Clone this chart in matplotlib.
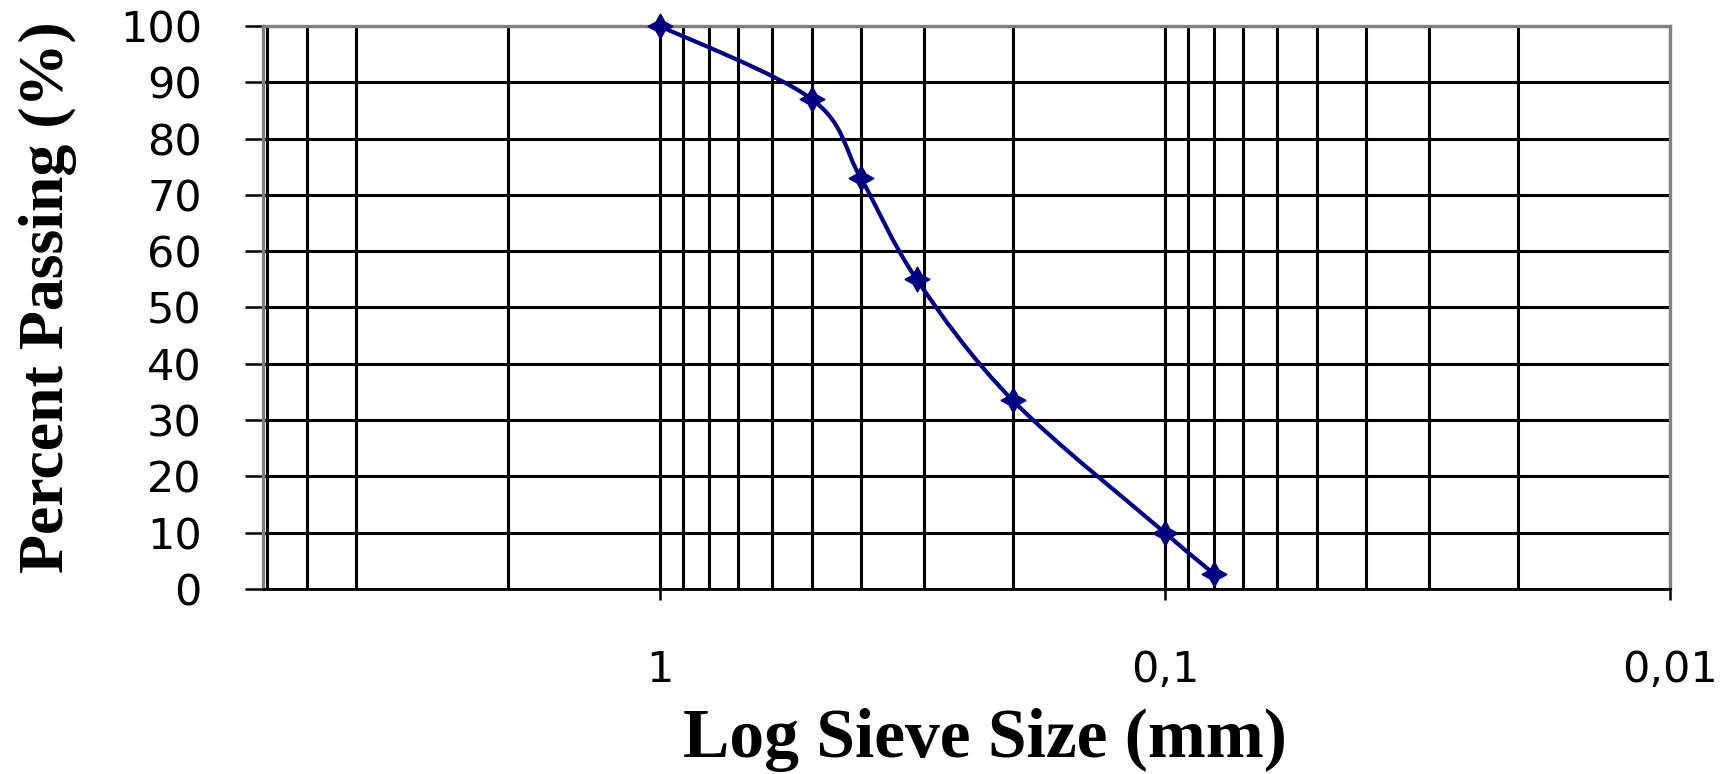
import matplotlib
matplotlib.use("Agg")
import matplotlib.pyplot as plt
import numpy as np
from matplotlib.path import Path
from matplotlib.patches import PathPatch
from matplotlib.ticker import FixedLocator, FixedFormatter

# sieve data
sieve_mm = [1.0, 0.5, 0.4, 0.31, 0.2, 0.1, 0.08]
passing = [100, 87, 73, 55, 33.5, 10, 2.7]

x_major = [1, 0.1, 0.01]
x_major_labels = ["1", "0,1", "0,01"]
x_minor = [6, 5, 4, 2,
           0.9, 0.8, 0.7, 0.6, 0.5, 0.4, 0.3, 0.2,
           0.09, 0.08, 0.07, 0.06, 0.05, 0.04, 0.03, 0.02]
y_ticks = list(range(0, 101, 10))

fig = plt.figure(figsize=(17.3, 7.74), dpi=100)
ax = fig.add_axes([263/1730, 185/774, 1407/1730, 563/774])

ax.set_xscale("log")
ax.set_xlim(6.1, 0.01)
ax.set_ylim(0, 100)

ax.xaxis.set_major_locator(FixedLocator(x_major))
ax.xaxis.set_major_formatter(FixedFormatter(x_major_labels))
ax.xaxis.set_minor_locator(FixedLocator(x_minor))
ax.xaxis.set_minor_formatter(FixedFormatter([""] * len(x_minor)))
ax.set_yticks(y_ticks)

ax.grid(True, which="both", axis="x", color="black", linewidth=2.2)
ax.grid(True, which="major", axis="y", color="black", linewidth=2.2)
ax.set_axisbelow(True)

ax.tick_params(axis="y", direction="out", length=13, width=1.8, pad=31,
               labelsize=31, color="black")
ax.tick_params(axis="x", which="major", direction="out", length=8, width=1.8,
               pad=35, labelsize=31, color="black")
ax.tick_params(axis="x", which="minor", length=0)
for lab in ax.get_xticklabels() + ax.get_yticklabels():
    lab.set_family("DejaVu Sans")

for side in ["top", "left", "right"]:
    ax.spines[side].set_color("#808080")
    ax.spines[side].set_linewidth(2.4)
ax.spines["bottom"].set_color("black")
ax.spines["bottom"].set_linewidth(2.0)

# smoothed line like the spreadsheet curve: cubic bezier through the points
lx = np.log10(sieve_mm)
yy = np.array(passing, dtype=float)
px = np.concatenate([[lx[0]], lx, [lx[-1]]])
py = np.concatenate([[yy[0]], yy, [yy[-1]]])
verts = [(lx[0], yy[0])]
codes = [Path.MOVETO]
for i in range(1, len(px) - 2):
    c1 = (px[i] + (px[i+1] - px[i-1]) / 6, py[i] + (py[i+1] - py[i-1]) / 6)
    c2 = (px[i+1] - (px[i+2] - px[i]) / 6, py[i+1] - (py[i+2] - py[i]) / 6)
    verts += [c1, c2, (px[i+1], py[i+1])]
    codes += [Path.CURVE4] * 3
verts = [(10 ** vx, vy) for vx, vy in verts]
curve = PathPatch(Path(verts, codes), facecolor="none", edgecolor="#000080",
                  linewidth=3.0, transform=ax.transData, zorder=3)
ax.add_patch(curve)

ax.plot(sieve_mm, passing, linestyle="none", marker=(4, 1, 0), markersize=18,
        color="#000080", zorder=4, clip_on=False)

ax.set_xlabel("Log Sieve Size (mm)", family="Liberation Serif",
              fontweight="bold", fontsize=50)
ax.xaxis.set_label_coords(0.513, -0.212)
ax.set_ylabel("Percent Passing (%)", family="Liberation Serif",
              fontweight="bold", fontsize=46)
ax.yaxis.set_label_coords(-0.132, 0.519)

fig.savefig("out.png", dpi=100)
